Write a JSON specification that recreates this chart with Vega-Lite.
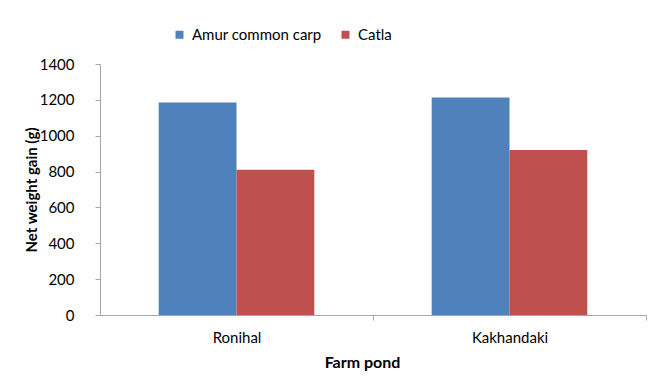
{
  "$schema": "https://vega.github.io/schema/vega-lite/v6.json",
  "autosize": "none",
  "width": 546,
  "height": 251,
  "padding": {"left": 100, "top": 64, "right": 5, "bottom": 63},
  "background": "white",
  "config": {
    "view": {"stroke": null},
    "font": "Lato",
    "axis": {"labelFont": "Lato", "titleFont": "Lato", "labelColor": "#000", "titleColor": "#000", "domainColor": "#a6a6a6", "tickColor": "#a6a6a6", "grid": false}
  },
  "data": {
    "values": [
      {"pond": "Ronihal", "species": "Amur common carp", "gain": 1185},
      {"pond": "Ronihal", "species": "Catla", "gain": 810},
      {"pond": "Kakhandaki", "species": "Amur common carp", "gain": 1213},
      {"pond": "Kakhandaki", "species": "Catla", "gain": 920}
    ]
  },
  "mark": {"type": "bar"},
  "encoding": {
    "x": {
      "field": "pond", "type": "nominal", "sort": ["Ronihal", "Kakhandaki"],
      "scale": {"paddingInner": 0.43, "paddingOuter": 0.215},
      "axis": {"title": "Farm pond", "titleFontSize": 16, "titleFontWeight": "bold", "labelFontSize": 15, "labelAngle": 0, "labelPadding": 10, "tickSize": 5, "tickOffset": 136.5, "labelOffset": -136.5, "titlePadding": 9, "titleX": 262}
    },
    "xOffset": {"field": "species", "type": "nominal", "scale": {"paddingInner": 0, "paddingOuter": 0}},
    "y": {
      "field": "gain", "type": "quantitative",
      "scale": {"domain": [0, 1400]},
      "axis": {"title": "Net weight gain (g)", "format": "d", "values": [0, 200, 400, 600, 800, 1000, 1200, 1400], "titleFontSize": 15, "titleFontWeight": "bold", "labelFontSize": 15, "labelPadding": 21, "tickSize": 5, "titlePadding": 0}
    },
    "color": {
      "field": "species", "type": "nominal",
      "scale": {"domain": ["Amur common carp", "Catla"], "range": ["#4F81BD", "#C0504D"]},
      "legend": {"title": null, "orient": "none", "direction": "horizontal", "legendX": 72, "legendY": -37, "symbolType": "square", "symbolSize": 64, "symbolStrokeWidth": 0, "labelFontSize": 15, "labelFont": "Lato", "labelColor": "#000", "columnPadding": 16, "labelOffset": 5}
    }
  }
}
